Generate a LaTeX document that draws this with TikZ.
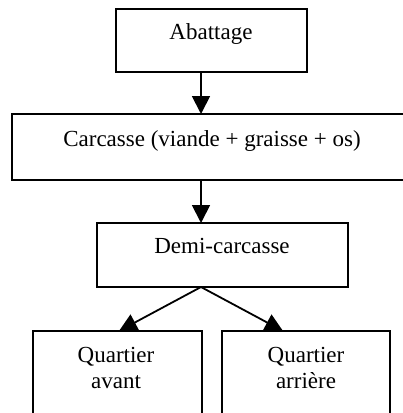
\documentclass[tikz,border=0pt]{standalone}
\usepackage{fontspec}
\setmainfont{Liberation Serif}
\usetikzlibrary{arrows.meta}
\begin{document}
\begin{tikzpicture}[x=1pt,y=-1pt,
  box/.style={draw,line width=2pt,inner sep=0pt,outer sep=0pt},
  lbl/.style={font=\fontsize{23}{26}\selectfont,inner sep=0pt,anchor=base},
  arr/.style={line width=1.8pt,-{Triangle[length=18pt,width=18pt]}}]
\useasboundingbox (0,0) rectangle (403,413);
\begin{scope}
\clip (0,0) rectangle (403,413);
% boxes
\node[box,minimum width=191pt,minimum height=63pt] (abat) at (211.5,40.5) {};
\node[box,minimum width=398pt,minimum height=66pt] (carc) at (211,147) {};
\node[box,minimum width=251pt,minimum height=64pt] (demi) at (222.5,255) {};
\node[box,minimum width=169pt,minimum height=109pt] (qav) at (117.5,385.5) {};
\node[box,minimum width=168pt,minimum height=109pt] (qar) at (306,385.5) {};
% texts
\node[lbl] (tabat) at (211,39) {Abattage};
\node[lbl] (tcarc) at (212,146) {Carcasse (viande + graisse + os)};
\node[lbl] (tdemi) at (222,253) {Demi-carcasse};
\node[lbl] (tqav1) at (116,362) {Quartier};
\node[lbl] (tqav2) at (116,388) {avant};
\node[lbl] (tqar1) at (306,362) {Quartier};
\node[lbl] (tqar2) at (306,388) {arrière};
% connector end points on the box borders
\path (abat.south) ++(-10.5,0) coordinate (a1);
\path (carc.north) ++(-10,0) coordinate (c1);
\path (carc.south) ++(-10,0) coordinate (c2);
\path (demi.north) ++(-21.5,0) coordinate (d1);
\path (demi.south) ++(-21.5,0) coordinate (d2);
\path (qav.north) ++(1.5,0) coordinate (q1);
\path (qar.north) ++(-23,0) coordinate (q2);
% connectors
\draw[arr] (a1) -- (c1);
\draw[arr] (c2) -- (d1);
\draw[arr] (d2) -- (q1);
\draw[arr] (d2) -- (q2);
\end{scope}
\end{tikzpicture}
\end{document}
